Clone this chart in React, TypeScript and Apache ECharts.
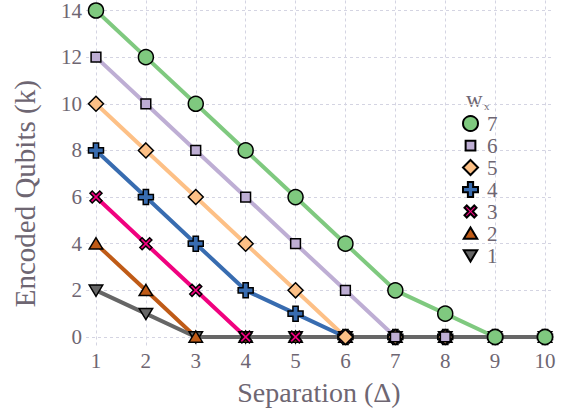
import React, { useEffect, useRef } from "react";
import * as echarts from "echarts";

const separations = [1, 2, 3, 4, 5, 6, 7, 8, 9, 10];
const xTicks = [1, 2, 3, 4, 5, 6, 7, 8, 9, 10];
const yTicks = [0, 2, 4, 6, 8, 10, 12, 14];
const seriesNames = ["7", "6", "5", "4", "3", "2", "1"];
const w7 = [14, 12, 10, 8, 6, 4, 2, 1, 0, 0];
const w6 = [12, 10, 8, 6, 4, 2, 0, 0, 0, 0];
const w5 = [10, 8, 6, 4, 2, 0, 0, 0, 0, 0];
const w4 = [8, 6, 4, 2, 1, 0, 0, 0, 0, 0];
const w3 = [6, 4, 2, 0, 0, 0, 0, 0, 0, 0];
const w2 = [4, 2, 0, 0, 0, 0, 0, 0, 0, 0];
const w1 = [2, 1, 0, 0, 0, 0, 0, 0, 0, 0];
const values = [w7, w6, w5, w4, w3, w2, w1];
const colors = ["#7fc97f", "#beaed4", "#fdc086", "#386cb0", "#f0027f", "#bf5b17", "#666666"];

const SQUARE = "path://M-10,-10M10,10M-6.5,-6.5L6.5,-6.5L6.5,6.5L-6.5,6.5Z";
const PLUS = "path://M-3.5,-10L3.5,-10L3.5,-3.5L10,-3.5L10,3.5L3.5,3.5L3.5,10L-3.5,10L-3.5,3.5L-10,3.5L-10,-3.5L-3.5,-3.5Z";
const CROSS = "path://M-10,-10M10,10M-8,-5L-5,-8L0,-3L5,-8L8,-5L3,0L8,5L5,8L0,3L-5,8L-8,5L-3,0Z";
const DOWN = "path://M-10,-10M10,10M-9,-7L9,-7L0,8Z";
const UP = "path://M-10,-10M10,10M-9,7L9,7L0,-8Z";
const symbols = ["circle", SQUARE, "diamond", PLUS, CROSS, UP, DOWN];
const sizes = [15, 15, 15, 15, 15, 15, 15];

const FONT = "'Liberation Serif', 'DejaVu Serif', serif";
const TXT = "#6e6672";

export default function App() {
  const ref = useRef<HTMLDivElement>(null);
  useEffect(() => {
    const chart = echarts.init(ref.current!, null, { renderer: "svg" });
    const series: any[] = [];
    seriesNames.forEach((n, i) => {
      series.push({
        name: "line" + n,
        type: "line",
        data: separations.map((x, j) => [x, values[i][j]]),
        showSymbol: false,
        symbol: "none",
        lineStyle: { color: colors[i], width: 4 },
        z: 2 + i,
        silent: true,
      });
    });
    seriesNames.forEach((n, i) => {
      series.push({
        name: n,
        type: "scatter",
        data: separations.map((x, j) => [x, values[i][j]]),
        symbol: symbols[i],
        symbolSize: sizes[i],
        itemStyle: { color: colors[i], borderColor: "#000", borderWidth: 1.5, opacity: 1 },
        z: 20 - i,
      });
    });
    chart.setOption({
      animation: false,
      grid: { left: 86, right: 22, top: 0, bottom: 65 },
      xAxis: {
        type: "value",
        min: 0.8,
        max: 10.14,
        name: "Separation (Δ)",
        nameLocation: "middle",
        nameGap: 31,
        nameTextStyle: { fontFamily: FONT, fontSize: 28, color: TXT },
        axisLine: { show: false },
        axisTick: { show: false, customValues: xTicks },
        axisLabel: { customValues: xTicks, fontFamily: FONT, fontSize: 21, color: TXT, margin: 3 },
        splitLine: { show: true, lineStyle: { color: "#d4d4e2", type: [3, 3], width: 1 } },
      },
      yAxis: {
        type: "value",
        min: -0.43,
        max: 14.43,
        name: "Encoded Qubits (k)",
        nameLocation: "middle",
        nameGap: 47,
        nameTextStyle: { fontFamily: FONT, fontSize: 29, color: TXT, padding: [0, 40, 0, 0] },
        axisLine: { show: false },
        axisTick: { show: false, customValues: yTicks },
        axisLabel: { customValues: yTicks, fontFamily: FONT, fontSize: 21, color: TXT, margin: 4 },
        splitLine: { show: true, lineStyle: { color: "#d4d4e2", type: [3, 3], width: 1 } },
      },
      legend: {
        data: seriesNames,
        orient: "vertical",
        left: 457,
        top: 108,
        itemGap: 1,
        itemWidth: 15,
        itemHeight: 15,
        textStyle: { fontFamily: FONT, fontSize: 21, lineHeight: 20, color: TXT, padding: [0, 0, 0, 4] },
      },
      graphic: [
        { type: "text", left: 466, top: 88, style: { text: "w", fontFamily: FONT, fontSize: 23, fill: TXT } },
        { type: "text", left: 484, top: 100, style: { text: "x", fontFamily: FONT, fontSize: 11, fill: TXT } },
      ],
      series,
    });
    return () => chart.dispose();
  }, []);
  return <div ref={ref} style={{ width: 574, height: 412, position: "absolute", left: 0, top: 0 }} />;
}
